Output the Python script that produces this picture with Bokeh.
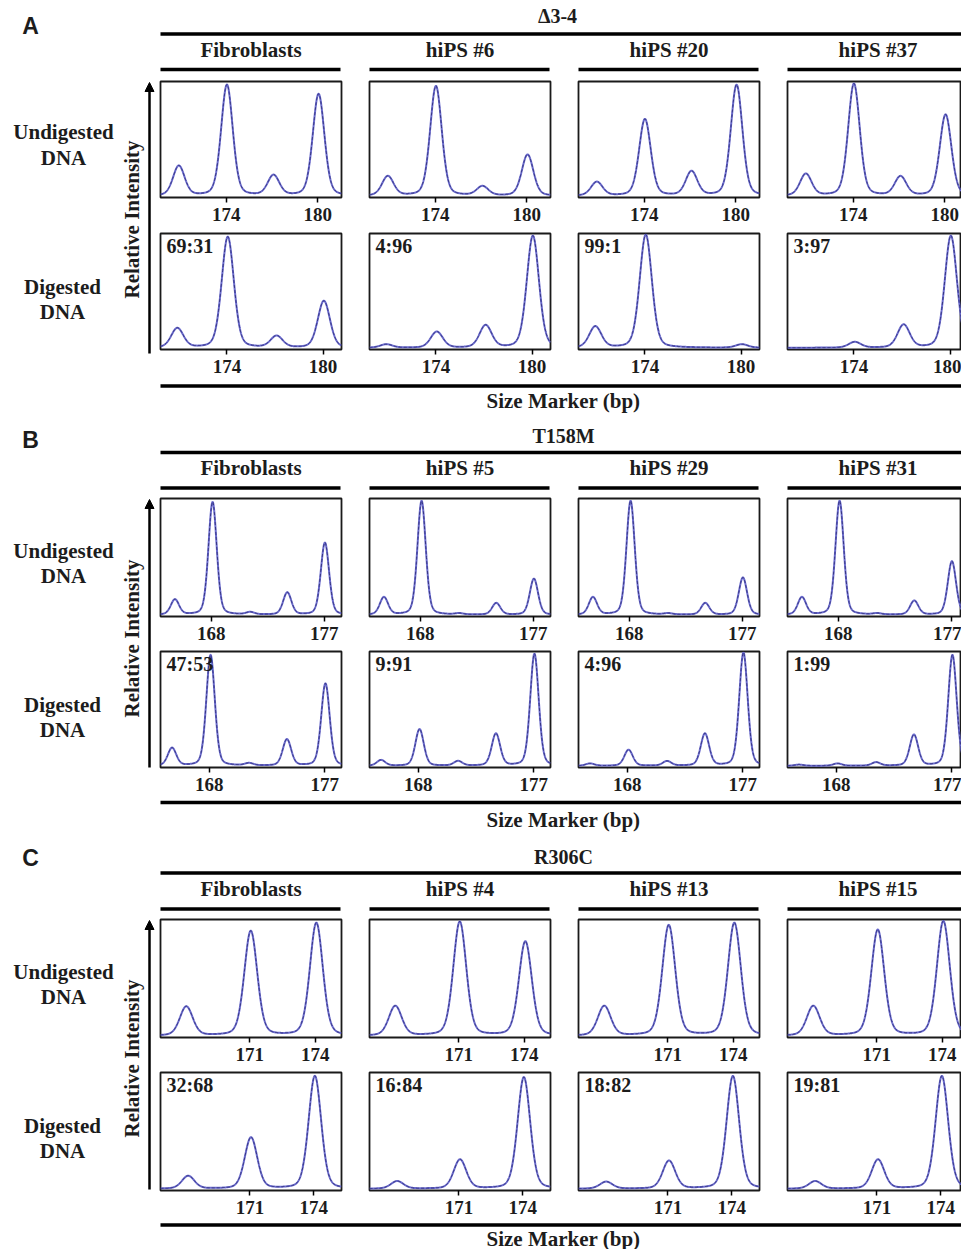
import numpy as np
from bokeh.plotting import figure
from bokeh.models import Range1d, FixedTicker, Arrow, NormalHead
from bokeh.layouts import column, row
from bokeh.core.properties import value
from bokeh.embed import file_html
from bokeh.resources import INLINE

# ---------------- data ----------------
panel_letters = ["A", "B", "C"]
section_titles = ["\u03943-4", "T158M", "R306C"]
row_labels = [["Undigested", "DNA"], ["Digested", "DNA"]]
y_title = "Relative Intensity"
x_title = "Size Marker (bp)"

A_samples = ["Fibroblasts", "hiPS #6", "hiPS #20", "hiPS #37"]
A_sizes = [170.9, 174.05, 177.1, 180.05]
A_ticks = [174, 180]
A_undigested = [[0.26, 0.97, 0.175, 0.89],
                [0.17, 0.96, 0.08, 0.36],
                [0.12, 0.67, 0.21, 0.97],
                [0.19, 0.98, 0.165, 0.71]]
A_digested = [[0.17, 0.97, 0.10, 0.41],
              [0.03, 0.14, 0.195, 0.98],
              [0.185, 0.99, 0.0, 0.03],
              [0.0, 0.05, 0.20, 0.98]]
A_ratios = ["69:31", "4:96", "99:1", "3:97"]

B_samples = ["Fibroblasts", "hiPS #5", "hiPS #29", "hiPS #31"]
B_sizes = [165.1, 168.1, 171.1, 174.05, 177.05]
B_ticks = [168, 177]
B_undigested = [[0.13, 0.97, 0.02, 0.19, 0.62],
                [0.15, 0.98, 0.01, 0.10, 0.31],
                [0.15, 0.98, 0.01, 0.10, 0.32],
                [0.15, 0.98, 0.01, 0.12, 0.46]]
B_digested = [[0.155, 0.97, 0.02, 0.23, 0.72],
              [0.05, 0.32, 0.04, 0.28, 0.98],
              [0.02, 0.14, 0.04, 0.28, 0.99],
              [0.01, 0.02, 0.03, 0.27, 0.97]]
B_ratios = ["47:53", "9:91", "4:96", "1:99"]

C_samples = ["Fibroblasts", "hiPS #4", "hiPS #13", "hiPS #15"]
C_sizes = [168.1, 171.05, 174.05]
C_ticks = [171, 174]
C_undigested = [[0.25, 0.90, 0.97],
                [0.255, 0.98, 0.81],
                [0.255, 0.95, 0.97],
                [0.255, 0.91, 0.985]]
C_digested = [[0.11, 0.44, 0.97],
              [0.065, 0.25, 0.96],
              [0.06, 0.24, 0.97],
              [0.065, 0.25, 0.97]]
C_ratios = ["32:68", "16:84", "18:82", "19:81"]

# ---------------- styling / layout ----------------
SERIF = "Liberation Serif"
SANS = "Liberation Sans"
TXT = "#1c1c1c"
LINE_LIGHT = "#6a6acc"
LINE_DARK = "#2a2a70"

X_RANGES = {
    "A": [(169.7, 181.55), (169.85, 181.15)],
    "B": [(163.95, 178.37), (164.2, 178.3)],
    "C": [(166.92, 175.2), (166.8, 175.3)],
}
FWHM = {"A": 0.9, "B": 0.78, "C": 0.7}
Y0, Y1 = -0.015, 1.0

PAGE_L, PAGE_R = 0, 961
COL_LEFT = [160, 369, 578, 787]
COL_W = 181


def peak_trace(xs, sizes, heights, fwhm, eta=0.25):
    y = np.zeros_like(xs)
    for s, h in zip(sizes, heights):
        d2 = 4.0 * (xs - s) ** 2 / fwhm ** 2
        y += h * (eta / (1.0 + d2) + (1.0 - eta) * np.exp(-np.log(2) * d2))
    return y


def panel(key, rowi, coli, sizes, heights, ticks, fh, bb, ratio=None):
    x0, x1full = X_RANGES[key][rowi]
    last = coli == 3
    fw = COL_W if not last else PAGE_R - COL_LEFT[3]
    rb = 27 if not last else 0
    x1 = x0 + (x1full - x0) * fw / COL_W if last else x1full
    p = figure(frame_width=fw, frame_height=fh, min_border_left=1, min_border_right=rb,
               min_border_top=1, min_border_bottom=bb,
               x_range=Range1d(x0, x1), y_range=Range1d(Y0, Y1),
               y_axis_type=None, toolbar_location=None, output_backend="svg")
    p.xgrid.visible = False
    xs = np.linspace(x0, x1full, 700)
    ys = peak_trace(xs, sizes, heights, FWHM[key])
    p.line(xs, ys, line_color=LINE_LIGHT, line_width=2.0)
    p.line(xs, ys, line_color=LINE_DARK, line_width=0.8, line_dash="3 2")
    ax = p.xaxis[0]
    ax.ticker = FixedTicker(ticks=ticks)
    ax.major_label_text_font = SERIF
    ax.major_label_text_font_size = "19px"
    ax.major_label_text_font_style = "bold"
    ax.major_label_text_color = TXT
    ax.major_label_standoff = 5
    ax.major_tick_out = 5
    ax.major_tick_in = 0
    ax.major_tick_line_width = 1.5
    ax.major_tick_line_color = "black"
    ax.minor_tick_out = 0
    ax.minor_tick_in = 0
    ax.axis_line_color = None
    p.outline_line_color = "#1a1a1a"
    p.outline_line_width = 1.8
    if ratio is not None:
        p.text(x=[x0 + 6 * (x1 - x0) / fw], y=[Y1 - 1 * (Y1 - Y0) / fh], text=[ratio],
               text_font=value(SERIF), text_font_style="bold", text_font_size="20px",
               text_baseline="top", text_align="left", text_color=TXT)
    return p


def canvas(x0, x1, ytop, ybot):
    p = figure(frame_width=int(x1 - x0), frame_height=int(ybot - ytop),
               x_range=Range1d(x0, x1), y_range=Range1d(ybot, ytop), min_border=0,
               x_axis_type=None, y_axis_type=None, toolbar_location=None,
               output_backend="svg", outline_line_color=None)
    return p


def hline(p, x0, x1, y, w=3.5):
    p.segment(x0=[x0], y0=[y], x1=[x1], y1=[y], line_color="black", line_width=w)


def txt(p, x, y, s, size="21px", font=SERIF, angle=0.0, align="center"):
    p.text(x=[x], y=[y], text=[s], text_font=value(font), text_font_style="bold",
           text_font_size=size, text_align=align, text_baseline="middle", angle=angle,
           text_color=TXT)


def draw_header(p, letter, title, samples, g):
    txt(p, 30, g["letter"], letter, size="23px", font=SANS)
    txt(p, g["title_x"], g["title"], title, size="20px")
    hline(p, COL_LEFT[0], PAGE_R, g["top"])
    for i, s in enumerate(samples):
        txt(p, COL_LEFT[i] + COL_W / 2, g["head"], s, size="21px")
        hline(p, COL_LEFT[i], min(COL_LEFT[i] + COL_W - 1, PAGE_R), g["hline"])


def draw_footer(p, yline, ytext):
    hline(p, COL_LEFT[0], PAGE_R, yline)
    txt(p, 563, ytext, x_title, size="21px")


def left_fig(ytop, ybot, g):
    p = canvas(PAGE_L, COL_LEFT[0] - 1, ytop, ybot)
    txt(p, 63, g["u1"], row_labels[0][0])
    txt(p, 63, g["u2"], row_labels[0][1])
    txt(p, 62, g["d1"], row_labels[1][0])
    txt(p, 62, g["d2"], row_labels[1][1])
    txt(p, 131.5, g["ri"], y_title, angle=np.pi / 2)
    p.add_layout(Arrow(end=NormalHead(size=9, fill_color="black", line_color="black"),
                       x_start=149, y_start=g["a0"], x_end=149, y_end=g["a1"],
                       line_width=2.5, line_color="black"))
    return p


def section_mid(key, samples_u, samples_d, sizes, ticks, ratios, geo):
    ups = [panel(key, 0, i, sizes, samples_u[i], ticks, geo["ufh"], geo["ubb"]) for i in range(4)]
    dps = [panel(key, 1, i, sizes, samples_d[i], ticks, geo["dfh"], geo["dbb"], ratio=ratios[i])
           for i in range(4)]
    lf = left_fig(geo["top"], geo["bot"], geo)
    return row(lf, column(row(*ups), row(*dps)))


# section A
hA = canvas(PAGE_L, PAGE_R, 0, 80)
draw_header(hA, panel_letters[0], section_titles[0], A_samples,
            dict(letter=25, title_x=557, title=15, top=33.5, head=49.5, hline=69))

midA = section_mid("A", A_undigested, A_digested, A_sizes, A_ticks, A_ratios,
                   dict(top=80, bot=382, ufh=116, ubb=35, dfh=116, dbb=33,
                        u1=131.5, u2=157, d1=286.5, d2=311.5, ri=219, a0=353, a1=82))

# footer A + header B
hAB = canvas(PAGE_L, PAGE_R, 382, 497)
draw_footer(hAB, 385.5, 400)
draw_header(hAB, panel_letters[1], section_titles[1], B_samples,
            dict(letter=439, title_x=563, title=435, top=452, head=467.5, hline=487.5))

midB = section_mid("B", B_undigested, B_digested, B_sizes, B_ticks, B_ratios,
                   dict(top=497, bot=799, ufh=118, ubb=34, dfh=116, dbb=32,
                        u1=550, u2=575.5, d1=704, d2=729.5, ri=638, a0=767, a1=499))

# footer B + header C
hBC = canvas(PAGE_L, PAGE_R, 799, 918)
draw_footer(hBC, 802, 819)
draw_header(hBC, panel_letters[2], section_titles[2], C_samples,
            dict(letter=857, title_x=563, title=856, top=872.5, head=888.5, hline=908.5))

midC = section_mid("C", C_undigested, C_digested, C_sizes, C_ticks, C_ratios,
                   dict(top=918, bot=1222, ufh=118, ubb=34, dfh=118, dbb=32,
                        u1=971.5, u2=996.5, d1=1125, d2=1150, ri=1058, a0=1189, a1=920))

fC = canvas(PAGE_L, PAGE_R, 1222, 1249)
draw_footer(fC, 1224.5, 1238)

layout = column(hA, midA, hAB, midB, hBC, midC, fC)

open("out.html", "w").write(file_html(layout, INLINE))
